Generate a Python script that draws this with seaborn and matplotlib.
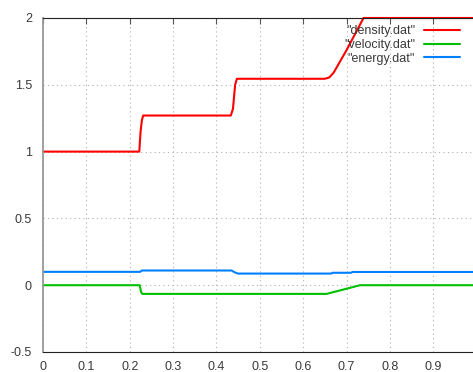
import matplotlib
matplotlib.use("Agg")
import matplotlib.pyplot as plt
import seaborn as sns
import pandas as pd

# Profiles sampled at their break points
density_x = [0.0, 0.222, 0.225, 0.228, 0.231, 0.433, 0.438, 0.443, 0.447, 0.650, 0.660, 0.670, 0.700, 0.739, 1.0]
density_y = [1.0, 1.0, 1.15, 1.235, 1.27, 1.27, 1.32, 1.50, 1.545, 1.545, 1.555, 1.59, 1.76, 2.0, 2.0]

velocity_x = [0.0, 0.223, 0.226, 0.229, 0.654, 0.731, 1.0]
velocity_y = [0.0, 0.0, -0.05, -0.065, -0.065, 0.0, 0.0]

energy_x = [0.0, 0.224, 0.228, 0.435, 0.441, 0.449, 0.664, 0.668, 0.710, 0.714, 1.0]
energy_y = [0.1, 0.1, 0.11, 0.11, 0.098, 0.087, 0.087, 0.093, 0.093, 0.099, 0.099]

labels = ['"density.dat"', '"velocity.dat"', '"energy.dat"']
colors = ["#ff0000", "#00c000", "#0080ff"]

x_ticks = [0, 0.1, 0.2, 0.3, 0.4, 0.5, 0.6, 0.7, 0.8, 0.9]
x_tick_labels = ["0", "0.1", "0.2", "0.3", "0.4", "0.5", "0.6", "0.7", "0.8", "0.9"]
y_ticks = [-0.5, 0, 0.5, 1, 1.5, 2]
y_tick_labels = ["-0.5", "0", "0.5", "1", "1.5", "2"]

frames = [
    pd.DataFrame({"x": density_x, "y": density_y, "series": labels[0]}),
    pd.DataFrame({"x": velocity_x, "y": velocity_y, "series": labels[1]}),
    pd.DataFrame({"x": energy_x, "y": energy_y, "series": labels[2]}),
]
data = pd.concat(frames, ignore_index=True)

sns.set_style("white")
plt.rcParams["font.family"] = ["Liberation Sans", "DejaVu Sans"]

fig = plt.figure(figsize=(4.73, 3.72), dpi=100)
ax = fig.add_axes([43 / 473, 20 / 372, 433.7 / 473, 334 / 372])

sns.lineplot(data=data, x="x", y="y", hue="series", palette=colors,
             hue_order=labels, sort=False, estimator=None, linewidth=1.5,
             ax=ax, legend=True)
for line in ax.lines:
    line.set_clip_on(False)

ax.set_xlim(0, 1)
ax.set_ylim(-0.5, 2)
ax.set_xticks(x_ticks)
ax.set_xticklabels(x_tick_labels)
ax.set_yticks(y_ticks)
ax.set_yticklabels(y_tick_labels)
ax.set_xlabel("")
ax.set_ylabel("")

ax.grid(True, color="#b0b0b0", linestyle=(0, (1, 3)), linewidth=0.8)
ax.set_axisbelow(True)

ax.tick_params(axis="both", direction="in", length=4.5, width=0.8,
               color="#555555", labelcolor="#3a3a3a", labelsize=9)
ax.tick_params(axis="x", pad=6.5, top=True)
ax.tick_params(axis="y", pad=8)

for side in ["top", "bottom"]:
    ax.spines[side].set_color("#222222")
    ax.spines[side].set_linewidth(0.8)
ax.spines["left"].set_color("#999999")
ax.spines["left"].set_linewidth(1.3)
ax.spines["right"].set_visible(False)

handles, labs = ax.get_legend_handles_labels()
ax.legend(handles, labs, loc="upper right",
          bbox_to_anchor=(460 / 473, 1 - 25 / 372),
          bbox_transform=fig.transFigure, frameon=False,
          markerfirst=False, borderpad=0, borderaxespad=0,
          handlelength=2.9, handletextpad=0.7, labelspacing=0.15,
          fontsize=9, labelcolor="#3a3a3a")

fig.savefig("out.png", dpi=100)
